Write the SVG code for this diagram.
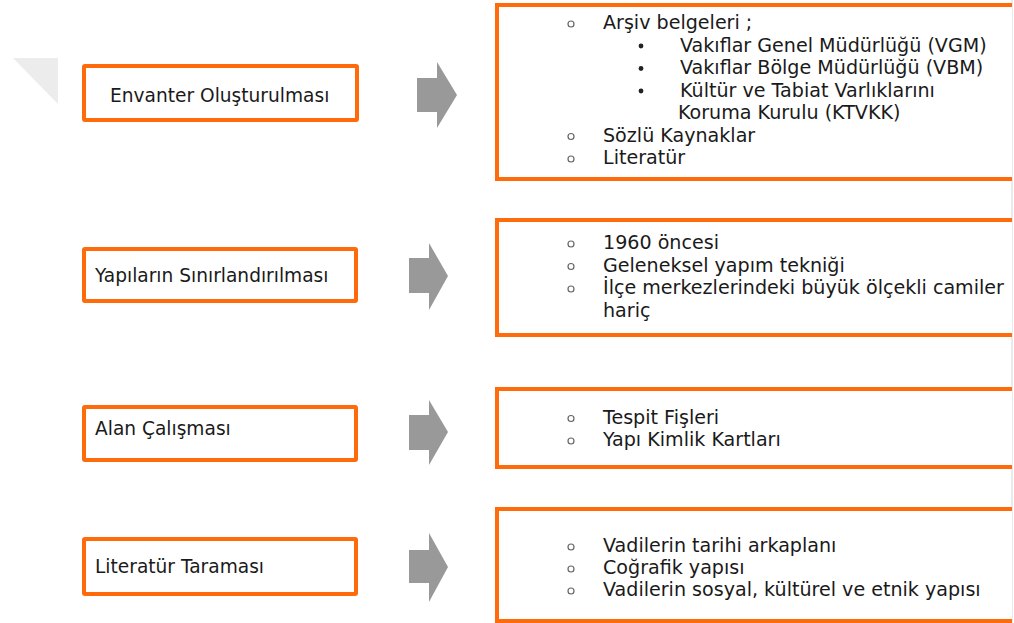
<svg xmlns="http://www.w3.org/2000/svg" width="1014" height="623" viewBox="0 0 1014 623">
<style>
text{font-family:"DejaVu Sans","Liberation Sans",sans-serif;font-size:19.1px;fill:#1a1a1a}
.lbox{fill:#fff;stroke:#ff6a0a;stroke-width:4}
.rbox{fill:#fff;stroke:#ff6a0a;stroke-width:4}
.arrow{fill:#999999}
.ob{fill:none;stroke:#666;stroke-width:1.2}
.db{fill:#222}
</style>
<rect x="0" y="0" width="1014" height="623" fill="#fff"/>
<polygon points="13,58 58,58 58,104" fill="#ececec"/>
<line x1="1012" y1="0" x2="1012" y2="623" stroke="#d6d6d6" stroke-width="1"/>

<g id="connectors">
<polygon class="arrow" points="417,78 437,78 437,62 457,95 437,128 437,112 417,112"/>
<polygon class="arrow" points="409,258 429,258 429,243 448,276 429,310 429,293 409,293"/>
<polygon class="arrow" points="409,415 429,415 429,400 448,432 429,465 429,450 409,450"/>
<polygon class="arrow" points="409,550 429,550 429,533 448,567 429,602 429,583 409,583"/>
</g>

<g id="node-envanter">
<rect class="lbox" x="84" y="66" width="273" height="54" rx="1"/>
<text x="110" y="102" style="font-size:18.6px">Envanter Oluşturulması</text>
</g>
<g id="node-sinirlandirma">
<rect class="lbox" x="84" y="249" width="272" height="52" rx="1"/>
<text x="95" y="282" style="font-size:18.6px">Yapıların Sınırlandırılması</text>
</g>
<g id="node-alan">
<rect class="lbox" x="84" y="407" width="272" height="53" rx="1"/>
<text x="95" y="435" style="font-size:18.6px">Alan Çalışması</text>
</g>
<g id="node-literatur">
<rect class="lbox" x="84" y="539" width="272" height="55" rx="1"/>
<text x="95" y="573" style="font-size:18.6px">Literatür Taraması</text>
</g>

<g id="node-envanter-detay">
<path class="rbox" d="M1012,5 H497 V179 H1012"/>
<circle class="ob" cx="571" cy="24" r="3"/>
<text x="603" y="29">Arşiv belgeleri ;</text>
<circle class="db" cx="641" cy="46" r="2.4"/>
<text x="680" y="51.5">Vakıflar Genel Müdürlüğü (VGM)</text>
<circle class="db" cx="641" cy="68.5" r="2.4"/>
<text x="680" y="74">Vakıflar Bölge Müdürlüğü (VBM)</text>
<circle class="db" cx="641" cy="91" r="2.4"/>
<text x="680" y="96.5">Kültür ve Tabiat Varlıklarını</text>
<text x="678" y="119">Koruma Kurulu (KTVKK)</text>
<circle class="ob" cx="571" cy="136.5" r="3"/>
<text x="603" y="141.5">Sözlü Kaynaklar</text>
<circle class="ob" cx="571" cy="159" r="3"/>
<text x="603" y="164">Literatür</text>
</g>

<g id="node-sinirlandirma-detay">
<path class="rbox" d="M1012,220 H497 V335 H1012"/>
<circle class="ob" cx="571" cy="244" r="3"/>
<text x="603" y="249">1960 öncesi</text>
<circle class="ob" cx="571" cy="266.5" r="3"/>
<text x="603" y="271.5">Geleneksel yapım tekniği</text>
<circle class="ob" cx="571" cy="289" r="3"/>
<text x="603" y="294">İlçe merkezlerindeki büyük ölçekli camiler</text>
<text x="603" y="316.5">hariç</text>
</g>

<g id="node-alan-detay">
<path class="rbox" d="M1012,389 H497 V467 H1012"/>
<circle class="ob" cx="571" cy="418.5" r="3"/>
<text x="603" y="423.5">Tespit Fişleri</text>
<circle class="ob" cx="571" cy="441" r="3"/>
<text x="603" y="446">Yapı Kimlik Kartları</text>
</g>

<g id="node-literatur-detay">
<path class="rbox" d="M1012,509 H497 V621 H1012"/>
<circle class="ob" cx="571" cy="547" r="3"/>
<text x="603" y="552">Vadilerin tarihi arkaplanı</text>
<circle class="ob" cx="571" cy="569" r="3"/>
<text x="603" y="574">Coğrafik yapısı</text>
<circle class="ob" cx="571" cy="591" r="3"/>
<text x="603" y="596">Vadilerin sosyal, kültürel ve etnik yapısı</text>
</g>
</svg>
